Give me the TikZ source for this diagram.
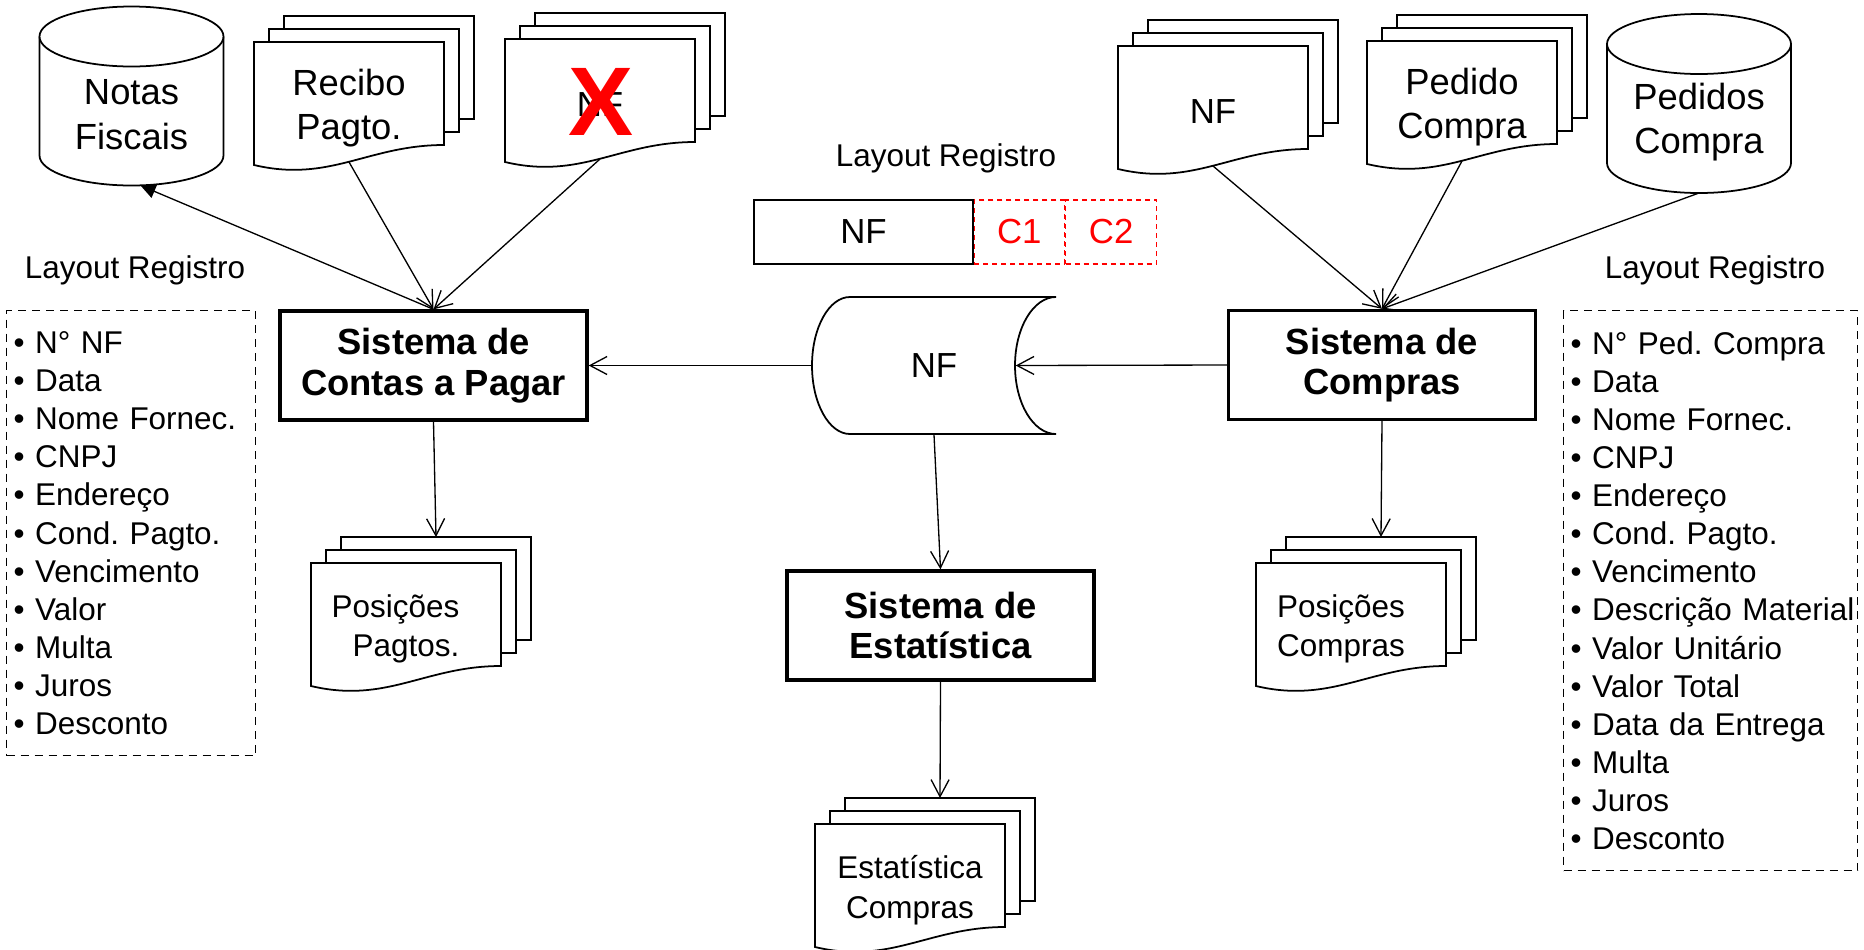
\documentclass[tikz,border=0pt]{standalone}
\usepackage{fontspec}
\setmainfont{Liberation Sans}
\usetikzlibrary{positioning, arrows.meta}

% pilha de documentos: nome, esquerda, topo, opcoes do texto, texto
\newcommand{\docstack}[5]{%
  \foreach \k in {2,1}
    \draw[folha] ({#2+15*\k},{#3-13*\k}) rectangle ++(190,103);
  \draw[folha] (#2,#3) -- ++(190,0) -- ++(0,103)
    .. controls ({#2+114},{#3+103}) and ({#2+76},{#3+141}) .. ({#2},{#3+123}) -- cycle;
  \node[#4] (#1) at ({#2+95},{#3+66}) {#5};
  \coordinate (#1-in) at ({#2+125},{#3-26});
  \coordinate (#1-out) at ({#2+95},{#3+120});
}
% arquivo em disco: nome, centro x, topo, texto
\newcommand{\cilindro}[4]{%
  \draw[folha] ({#2-92},#3) -- ++(0,119) arc[start angle=180, end angle=0, x radius=92, y radius=30] -- ({#2+92},#3);
  \draw[folha] (#2,#3) ellipse [x radius=92, y radius=30];
  \node[grande] (#1) at (#2,{#3+78}) {#4};
  \coordinate (#1-b) at (#2,{#3+149});
}

\begin{document}
\frenchspacing
\begin{tikzpicture}[x=0.2mm, y=-0.2mm, line width=0.75pt,
  >={Straight Barb[length=3.4mm, width=3.6mm]},
  folha/.style={draw, fill=white, line width=1pt},
  grande/.style={align=center, font=\fontsize{20.7}{25.5}\selectfont},
  medio/.style={align=center, font=\fontsize{19.8}{24}\selectfont},
  pequeno/.style={align=center, font=\fontsize{17.9}{22.4}\selectfont},
  sistema/.style={draw, line width=1.9pt, minimum width=61.4mm, minimum height=21.8mm, align=center, font=\bfseries\fontsize{20.7}{23.2}\selectfont},
  lista/.style={draw, dash pattern=on 1.6mm off 1.2mm, anchor=north west, align=left, inner xsep=1.4mm, font=\frenchspacing\fontsize{17.9}{21.7}\selectfont},
  campo/.style={draw=red, dash pattern=on 1mm off 0.8mm, text=red, minimum height=12.8mm, font=\fontsize{19.8}{24}\selectfont}]
\useasboundingbox (0,0) rectangle (1864,949);

% sistemas
\node[sistema] (contas) at (433.5,365.5) {Sistema de\\Contas a Pagar};
\node[sistema] (compras) at (1382,365) {Sistema de\\Compras};
\node[sistema] (estat) at (940.5,625.5) {Sistema de\\Estatística};

% arquivos
\cilindro{notas}{131.5}{36.5}{Notas\\Fiscais}
\cilindro{pedidos}{1699}{44}{Pedidos\\Compra}

% documentos
\docstack{recibo}{254}{42}{grande}{Recibo\\Pagto.}
\docstack{nfx}{505}{39}{medio}{NF}
\docstack{nfdoc}{1118}{46}{medio}{NF}
\docstack{pedido}{1367}{41}{grande}{Pedido\\Compra}
\docstack{pospag}{311}{563}{pequeno, align=right, xshift=-2.1mm}{Posições\\Pagtos.}
\docstack{poscomp}{1256}{563}{pequeno, align=left, xshift=-2mm}{Posições\\Compras}
\docstack{estcomp}{815}{824}{pequeno}{Estatística\\Compras}
\node[text=red, font=\bfseries\fontsize{55.5}{60}\selectfont] (xis) at (601.5,102) {X};

% NF armazenado
\draw[folha] (850,297) -- (1056,297) arc[start angle=270, end angle=90, x radius=41, y radius=68.5]
  -- (850,434) arc[start angle=90, end angle=270, x radius=38, y radius=68.5] -- cycle;
\node[medio, minimum width=48.8mm, minimum height=27.4mm] (nfarq) at (934,365.5) {NF};

% layout do registro
\node[pequeno] (layC) at (946,158) {Layout Registro};
\node[medio, draw, minimum width=43.8mm, minimum height=12.8mm] (reg) at (863.5,232) {NF};
\node[campo, minimum width=18mm, right=0pt of reg] (c1) {C1};
\node[campo, minimum width=18.2mm, right=0pt of c1] (c2) {C2};
\draw (reg.north east) -- (reg.south east);

% listas de campos
\node[pequeno] (layL) at (135,270) {Layout Registro};
\node[lista, minimum width=49.8mm, minimum height=89mm, text width=47mm] (listapag) at (6,310)
  {• N° NF\\• Data\\• Nome Fornec.\\• CNPJ\\• Endereço\\• Cond. Pagto.\\• Vencimento\\• Valor\\• Multa\\• Juros\\• Desconto};
\node[pequeno] (layR) at (1715,270) {Layout Registro};
\node[lista, minimum width=58.8mm, minimum height=112mm, text width=56mm] (listacomp) at (1563,310)
  {• N° Ped. Compra\\• Data\\• Nome Fornec.\\• CNPJ\\• Endereço\\• Cond. Pagto.\\• Vencimento\\\mbox{• Descrição Material}\\• Valor Unitário\\• Valor Total\\• Data da Entrega\\• Multa\\• Juros\\• Desconto};

% fluxos
\draw[->] (recibo-out) -- (contas.north);
\draw[->] (nfx-out) -- (contas.north);
\draw[-{Triangle[length=3mm, width=2.8mm]}] (contas.north) -- ([xshift=1.8mm]notas-b);
\draw[->] (nfdoc-out) -- (compras.north);
\draw[->] (pedido-out) -- (compras.north);
\draw[->] (pedidos-b) -- (compras.north);
\draw[->] (compras.west) -- ([xshift=-8.2mm]nfarq.east);
\draw[->] (nfarq.west) -- (contas.east);
\draw[->] (nfarq.south) -- (estat.north);
\draw[->] (contas.south) -- (pospag-in);
\draw[->] (compras.south) -- (poscomp-in);
\draw[->] (estat.south) -- (estcomp-in);
\end{tikzpicture}
\end{document}
